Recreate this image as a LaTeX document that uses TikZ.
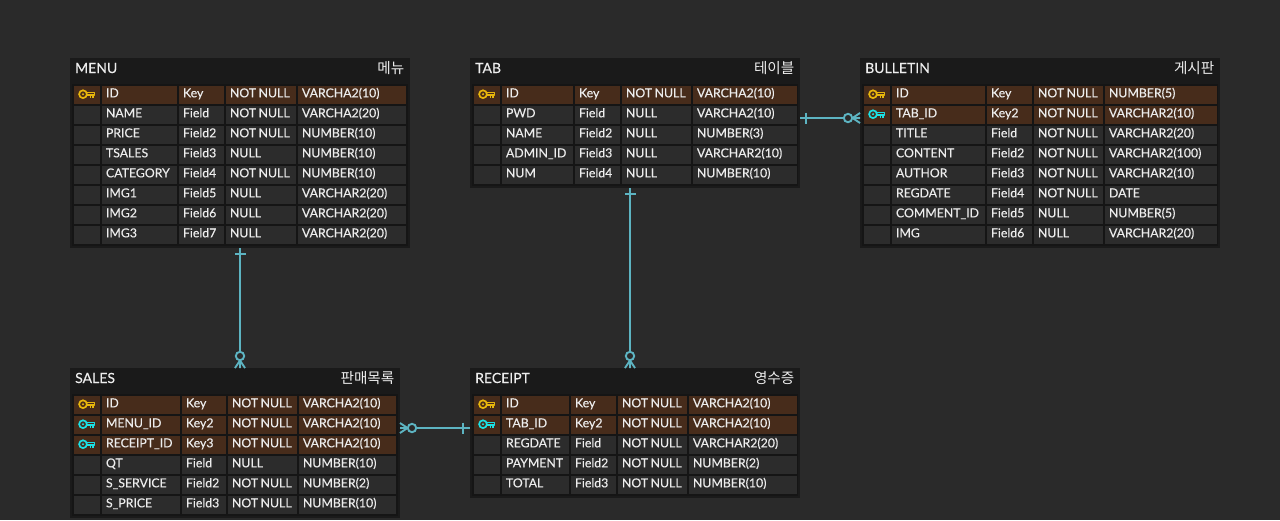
\documentclass[tikz,border=0pt]{standalone}
\usepackage{fontspec}
\setmainfont[FakeBold=0.25]{Lato}
\newfontfamily\kofont{Noto Sans CJK KR}
\usetikzlibrary{calc}

\definecolor{canvasbg}{HTML}{2A2A2A}
\definecolor{tablebg}{HTML}{1A1A1A}
\definecolor{bodybg}{HTML}{151515}
\definecolor{rowbg}{HTML}{2C2C2C}
\definecolor{keybg}{HTML}{472C1B}
\definecolor{celltext}{HTML}{EDEDED}
\definecolor{keyyellow}{HTML}{E8B60C}
\definecolor{keycyan}{HTML}{1CE0E4}
\definecolor{relcolor}{HTML}{5DB4C2}

\newcommand{\notnull}{NOT\kern-1.6pt~NULL}

\tikzset{
    tablebox/.style={fill=tablebg, inner sep=0pt, outer sep=0pt, anchor=north west},
    bodybox/.style={fill=bodybg, inner sep=0pt, outer sep=0pt, anchor=north west},
    titletext/.style={text=celltext, inner sep=0pt, font=\fontsize{14}{16}\selectfont},
    kotext/.style={text=celltext, inner sep=0pt, font=\fontsize{14.6}{16}\selectfont\kofont},
    cellbase/.style={anchor=north west, inner xsep=4pt, inner ysep=0pt, outer sep=0pt,
        minimum height=18pt, text height=9pt, text depth=4.4pt, align=left,
        text=celltext, font=\fontsize{12.3}{14}\selectfont},
    cellpk/.style={cellbase, fill=keybg},
    cellfk/.style={cellbase, fill=keybg},
    cellno/.style={cellbase, fill=rowbg},
    relline/.style={draw=relcolor, line width=1.9pt},
    keypk/.pic={\keyshape{keyyellow}},
    keyfk/.pic={\keyshape{keycyan}},
    keyno/.pic={},
    onebar/.pic={\draw[relline, line width=1.6pt] (0,-5.5) -- (0,5.5);},
    zeromany/.pic={
        \draw[relline] (0,-5) -- (7.5,0) -- (0,5) (0,0) -- (7.5,0);
        \draw[relline, fill=canvasbg] (12,0) circle (4.2);
    }
}

\newcommand{\keyshape}[1]{
    \draw[#1, line width=1.7pt] (-4,-0.8) circle (3.9);
    \fill[#1] (-4,-0.8) circle (1.2);
    \draw[#1, line width=1.5pt, line join=round] (-0.2,-2.6) -- (7.6,-2.6) -- (7.6,0.2) -- (6,0.2) -- (6,2.8)
        (3.6,0.2) -- (3.6,2.8) (6,0.2) -- (-0.2,0.2);
}

% body of one table: name, left, top, right, bottom, title, korean title
\newcommand{\tablebody}[7]{
    \node[tablebox, minimum width={#4-#2}, minimum height={#5-#3}] (#1) at (#2,#3) {};
    \node[bodybox, minimum width={#4-#2-4}, minimum height={#5-#3-28}] (#1Body) at ({#2+2},{#3+26}) {};
    \node[titletext, anchor=base west] (#1Title) at ({#2+5},{#3+15}) {#6};
    \node[kotext, anchor=base east] (#1Ko) at ({#4-5.5},{#3+15}) {#7};
}

\begin{document}
\begin{tikzpicture}[x=1pt, y=-1pt]

    \fill[canvasbg] (0,0) rectangle (1280,520);
    \useasboundingbox (0,0) rectangle (1280,520);

    % ==========================================
    % 1. MENU
    % ==========================================
    \tablebody{menu}{70}{58}{410}{248}{MENU}{메뉴}
    \foreach \kind/\fname/\ftype/\fnull/\fdata [count=\n] in {
        pk/ID/Key/\notnull/VARCHA2(10),
        no/NAME/Field/\notnull/VARCHA2(20),
        no/PRICE/Field2/\notnull/NUMBER(10),
        no/TSALES/Field3/NULL/NUMBER(10),
        no/CATEGORY/Field4/\notnull/NUMBER(10),
        no/IMG1/Field5/NULL/VARCHAR2(20),
        no/IMG2/Field6/NULL/VARCHAR2(20),
        no/IMG3/Field7/NULL/VARCHAR2(20)} {
        \pgfmathsetmacro{\rowy}{86+(\n-1)*20}
        \node[cell\kind, minimum width=26pt] (menu-\n-icon) at (74,\rowy) {};
        \node[cell\kind, text width=67pt] (menu-\n-name) at (102,\rowy) {\fname};
        \node[cell\kind, text width=37pt] (menu-\n-kind) at (179,\rowy) {\ftype};
        \node[cell\kind, text width=62pt] (menu-\n-null) at (226,\rowy) {\fnull};
        \node[cell\kind, text width=100pt] (menu-\n-data) at (298,\rowy) {\fdata};
        \pic at (menu-\n-icon.center) {key\kind};
    }

    % ==========================================
    % 2. TAB
    % ==========================================
    \tablebody{tab}{470}{58}{800}{188}{TAB}{테이블}
    \foreach \kind/\fname/\ftype/\fnull/\fdata [count=\n] in {
        pk/ID/Key/\notnull/VARCHA2(10),
        no/PWD/Field/NULL/VARCHA2(10),
        no/NAME/Field2/NULL/NUMBER(3),
        no/ADMIN\_ID/Field3/NULL/VARCHAR2(10),
        no/NUM/Field4/NULL/NUMBER(10)} {
        \pgfmathsetmacro{\rowy}{86+(\n-1)*20}
        \node[cell\kind, minimum width=26pt] (tab-\n-icon) at (474,\rowy) {};
        \node[cell\kind, text width=63pt] (tab-\n-name) at (502,\rowy) {\fname};
        \node[cell\kind, text width=37pt] (tab-\n-kind) at (575,\rowy) {\ftype};
        \node[cell\kind, text width=61pt] (tab-\n-null) at (622,\rowy) {\fnull};
        \node[cell\kind, text width=96pt] (tab-\n-data) at (693,\rowy) {\fdata};
        \pic at (tab-\n-icon.center) {key\kind};
    }

    % ==========================================
    % 3. BULLETIN
    % ==========================================
    \tablebody{bulletin}{860}{58}{1220}{248}{BULLETIN}{게시판}
    \foreach \kind/\fname/\ftype/\fnull/\fdata [count=\n] in {
        pk/ID/Key/\notnull/NUMBER(5),
        fk/TAB\_ID/Key2/\notnull/VARCHAR2(10),
        no/TITLE/Field/\notnull/VARCHAR2(20),
        no/CONTENT/Field2/\notnull/VARCHAR2(100),
        no/AUTHOR/Field3/\notnull/VARCHAR2(10),
        no/REGDATE/Field4/\notnull/DATE,
        no/COMMENT\_ID/Field5/NULL/NUMBER(5),
        no/IMG/Field6/NULL/VARCHAR2(20)} {
        \pgfmathsetmacro{\rowy}{86+(\n-1)*20}
        \node[cell\kind, minimum width=26pt] (bulletin-\n-icon) at (864,\rowy) {};
        \node[cell\kind, text width=85pt] (bulletin-\n-name) at (892,\rowy) {\fname};
        \node[cell\kind, text width=37pt] (bulletin-\n-kind) at (987,\rowy) {\ftype};
        \node[cell\kind, text width=61pt] (bulletin-\n-null) at (1034,\rowy) {\fnull};
        \node[cell\kind, text width=104pt] (bulletin-\n-data) at (1105,\rowy) {\fdata};
        \pic at (bulletin-\n-icon.center) {key\kind};
    }

    % ==========================================
    % 4. SALES
    % ==========================================
    \tablebody{sales}{70}{368}{400}{518}{SALES}{판매목록}
    \foreach \kind/\fname/\ftype/\fnull/\fdata [count=\n] in {
        pk/ID/Key/\notnull/VARCHA2(10),
        fk/MENU\_ID/Key2/\notnull/VARCHA2(10),
        fk/RECEIPT\_ID/Key3/\notnull/VARCHA2(10),
        no/QT/Field/NULL/NUMBER(10),
        no/S\_SERVICE/Field2/\notnull/NUMBER(2),
        no/S\_PRICE/Field3/\notnull/NUMBER(10)} {
        \pgfmathsetmacro{\rowy}{396+(\n-1)*20}
        \node[cell\kind, minimum width=26pt] (sales-\n-icon) at (74,\rowy) {};
        \node[cell\kind, text width=70pt] (sales-\n-name) at (102,\rowy) {\fname};
        \node[cell\kind, text width=36pt] (sales-\n-kind) at (182,\rowy) {\ftype};
        \node[cell\kind, text width=61pt] (sales-\n-null) at (228,\rowy) {\fnull};
        \node[cell\kind, text width=89pt] (sales-\n-data) at (299,\rowy) {\fdata};
        \pic at (sales-\n-icon.center) {key\kind};
    }

    % ==========================================
    % 5. RECEIPT
    % ==========================================
    \tablebody{receipt}{470}{368}{800}{498}{RECEIPT}{영수증}
    \foreach \kind/\fname/\ftype/\fnull/\fdata [count=\n] in {
        pk/ID/Key/\notnull/VARCHA2(10),
        fk/TAB\_ID/Key2/\notnull/VARCHA2(10),
        no/REGDATE/Field/\notnull/VARCHAR2(20),
        no/PAYMENT/Field2/\notnull/NUMBER(2),
        no/TOTAL/Field3/\notnull/NUMBER(10)} {
        \pgfmathsetmacro{\rowy}{396+(\n-1)*20}
        \node[cell\kind, minimum width=26pt] (receipt-\n-icon) at (474,\rowy) {};
        \node[cell\kind, text width=59pt] (receipt-\n-name) at (502,\rowy) {\fname};
        \node[cell\kind, text width=37pt] (receipt-\n-kind) at (571,\rowy) {\ftype};
        \node[cell\kind, text width=61pt] (receipt-\n-null) at (618,\rowy) {\fnull};
        \node[cell\kind, text width=100pt] (receipt-\n-data) at (689,\rowy) {\fdata};
        \pic at (receipt-\n-icon.center) {key\kind};
    }

    % ==========================================
    % 6. Relations
    % ==========================================
    \coordinate (menuOut) at (menu.south);
    \coordinate (salesIn) at (menu.south |- sales.north);
    \draw[relline] (menuOut) -- (salesIn);
    \pic[rotate=-90] at ($(menuOut)+(0,6)$) {onebar};
    \pic[rotate=90] at (salesIn) {zeromany};

    \coordinate (tabOut) at ([xshift=-5pt]tab.south);
    \coordinate (receiptIn) at (tabOut |- receipt.north);
    \draw[relline] (tabOut) -- (receiptIn);
    \pic[rotate=-90] at ($(tabOut)+(0,6)$) {onebar};
    \pic[rotate=90] at (receiptIn) {zeromany};

    \coordinate (tabSide) at ([yshift=-3pt]tab.east |- bulletin-2-icon.center);
    \coordinate (bulletinIn) at (tabSide -| bulletin.west);
    \draw[relline] (tabSide) -- (bulletinIn);
    \pic at ($(tabSide)+(6,0)$) {onebar};
    \pic[rotate=180] at (bulletinIn) {zeromany};

    \coordinate (receiptSide) at ([yshift=-3pt]receipt.west |- sales-2-icon.center);
    \coordinate (salesOut) at (receiptSide -| sales.east);
    \draw[relline] (receiptSide) -- (salesOut);
    \pic at ($(receiptSide)+(-7,0)$) {onebar};
    \pic at (salesOut) {zeromany};

\end{tikzpicture}
\end{document}
